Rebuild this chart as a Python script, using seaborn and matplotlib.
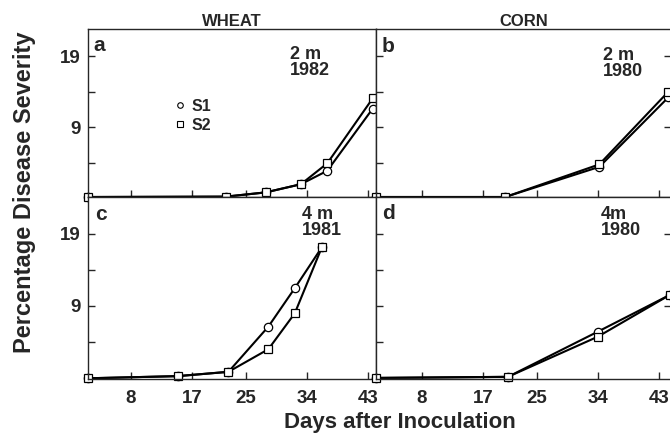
import pandas as pd
import seaborn as sns
from matplotlib import pyplot as plt
from matplotlib.lines import Line2D

# days after inoculation and % disease severity
days_a = [1.7, 22.0, 27.9, 33.1, 37.0, 43.7]
s1_a = [-0.85, -0.8, -0.2, 0.95, 2.85, 11.6]
s2_a = [-0.85, -0.8, -0.2, 0.95, 3.9, 13.05]

days_b = [1.2, 20.3, 34.2, 44.4]
s1_b = [-0.85, -0.85, 3.4, 13.2]
s2_b = [-0.85, -0.85, 3.75, 14.0]

days_c = [1.7, 14.9, 22.4, 28.3, 32.2, 36.2]
s1_c = [-1.1, -0.8, -0.2, 6.1, 11.45, 17.15]
s2_c = [-1.1, -0.8, -0.2, 2.95, 7.95, 17.15]

days_d = [1.2, 20.7, 34.0, 44.6]
s1_d = [-1.05, -0.9, 5.4, 10.5]
s2_d = [-1.05, -0.9, 4.7, 10.5]

crops = ['WHEAT', 'CORN']
x_ticks = [8, 17, 25, 34, 43]
y_major = [9, 19]
y_minor = [4, 14]

panels = {
	'a': (days_a, s1_a, s2_a, '2 m\n1982'),
	'b': (days_b, s1_b, s2_b, '2 m\n1980'),
	'c': (days_c, s1_c, s2_c, '4 m\n1981'),
	'd': (days_d, s1_d, s2_d, '4m\n1980'),
}

sns.set_style('ticks')
plt.rcParams['font.family'] = ['Liberation Sans', 'DejaVu Sans']
plt.rcParams['font.weight'] = 'bold'
plt.rcParams['xtick.direction'] = 'in'
plt.rcParams['ytick.direction'] = 'in'

fig = plt.figure(figsize=(6.7, 4.33), dpi=100)
W, H = 670, 433

def px_axes(x0, y0, x1, y1):
	return fig.add_axes([x0 / W, 1 - y1 / H, (x1 - x0) / W, (y1 - y0) / H])

axes = {
	'a': px_axes(88, 29, 376, 197),
	'b': px_axes(376, 29, 671, 197),
	'c': px_axes(88, 197, 376, 379),
	'd': px_axes(376, 197, 671, 379),
}
xlims = {'a': (1.65, 44.2), 'b': (1.2, 44.8), 'c': (1.65, 44.2), 'd': (1.2, 44.8)}
ylims = {'a': (-0.85, 22.85), 'b': (-0.85, 22.85), 'c': (-1.2, 24.15), 'd': (-1.2, 24.15)}
letter_pos = {'a': (0.017, 0.869), 'b': (0.02, 0.865), 'c': (0.024, 0.874), 'd': (0.02, 0.879)}
note_pos = {'a': (0.701, 0.899), 'b': (0.769, 0.893), 'c': (0.743, 0.951), 'd': (0.762, 0.951)}

for key, (days, s1, s2, note) in panels.items():
	ax = axes[key]
	df = pd.DataFrame({
		'day': days + days,
		'severity': s1 + s2,
		'series': ['S1'] * len(days) + ['S2'] * len(days),
	})
	sns.lineplot(data=df, x='day', y='severity', style='series',
		markers={'S1': 'o', 'S2': 's'}, dashes=False, color='black',
		markerfacecolor='white', markeredgecolor='black', markeredgewidth=0.9,
		markersize=6, linewidth=1.5, clip_on=False, legend=False,
		errorbar=None, ax=ax)
	ax.set_xlim(*xlims[key])
	ax.set_ylim(*ylims[key])
	ax.set_xticks(x_ticks)
	ax.set_yticks(y_major)
	ax.set_yticks(y_minor, minor=True)
	ax.set_xlabel('')
	ax.set_ylabel('')
	ax.tick_params(axis='both', which='both', length=5, width=1, labelsize=13.5, pad=5)
	ax.tick_params(axis='x', pad=8)
	for sp in ax.spines.values():
		sp.set_visible(True)
		sp.set_linewidth(1)
	if key in ('a', 'b'):
		ax.tick_params(axis='x', labelbottom=False)
	if key in ('b', 'd'):
		ax.tick_params(axis='y', labelleft=False, right=True)
	ax.text(*letter_pos[key], key, transform=ax.transAxes, fontsize=15,
		fontweight='bold', ha='left', va='baseline')
	ax.text(*note_pos[key], note, transform=ax.transAxes, fontsize=13,
		fontweight='bold', ha='left', va='top', linespacing=0.95)

for ax, crop in zip([axes['a'], axes['b']], crops):
	ax.set_title(crop, fontsize=12, fontweight='bold', pad=2)

handles = [
	Line2D([], [], marker='o', ls='', mfc='white', mec='black', ms=4, mew=0.8),
	Line2D([], [], marker='s', ls='', mfc='white', mec='black', ms=4, mew=0.8),
]
axes['a'].legend(handles, ['S1', 'S2'], loc='upper left', bbox_to_anchor=(0.2986, 0.583),
	frameon=False, borderpad=0, borderaxespad=0, handlelength=0.8, handletextpad=0.3,
	labelspacing=0.25, prop={'size': 11.5, 'weight': 'bold'})

fig.text(0.036, 0.555, 'Percentage Disease Severity', rotation=90, ha='center', va='center',
	fontsize=17, fontweight='bold')
fig.text(0.597, 1 - 428 / H, 'Days after Inoculation', ha='center', va='baseline',
	fontsize=16, fontweight='bold')

fig.savefig('out.png', dpi=100)
